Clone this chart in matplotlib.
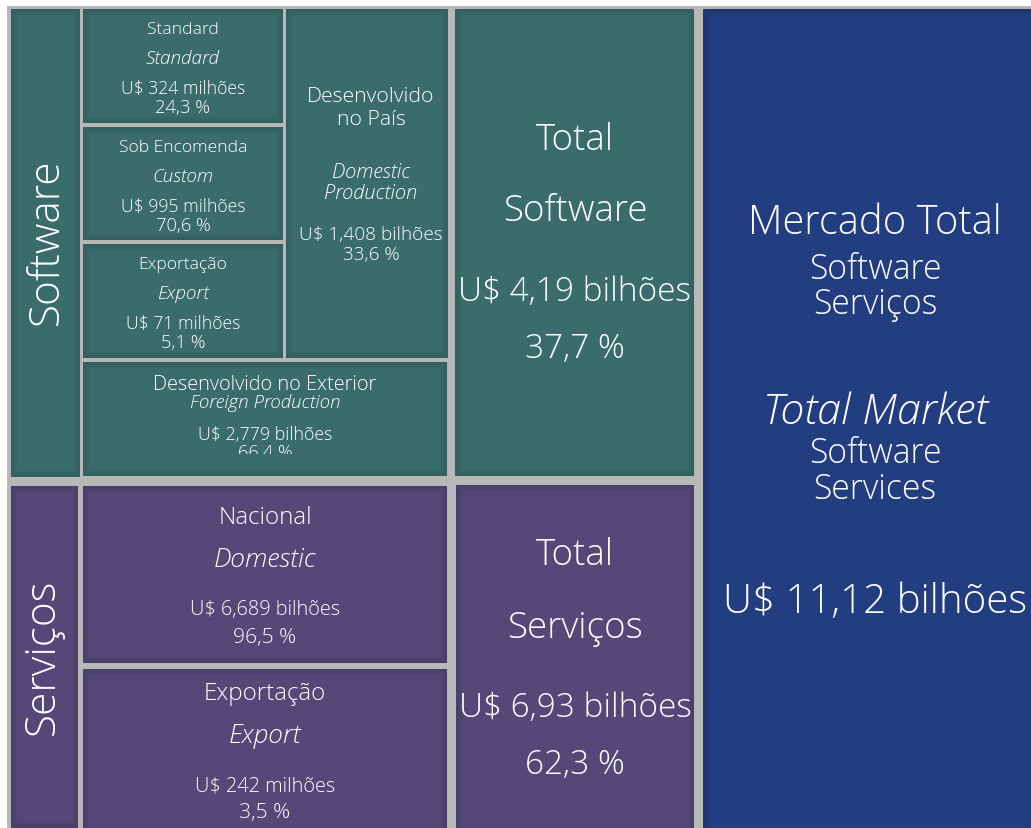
import matplotlib
matplotlib.use("Agg")
import matplotlib.pyplot as plt
from matplotlib.patches import Rectangle

# 1) Data
# ===================================================================
sw_names = ["Standard", "Sob Encomenda", "Exportação"]
sw_names_en = ["Standard", "Custom", "Export"]
sw_values = [324, 995, 71]          # U$ milhões
sw_pcts = [24.3, 70.6, 5.1]

dom_value = 1.408                   # U$ bilhões
dom_pct = 33.6
ext_value = 2.779
ext_pct = 66.4

srv_names = ["Nacional", "Exportação"]
srv_names_en = ["Domestic", "Export"]
srv_values = ["6,689 bilhões", "242 milhões"]
srv_pcts = [96.5, 3.5]

total_sw = 4.19
total_sw_pct = 37.7
total_srv = 6.93
total_srv_pct = 62.3
total_market = 11.12

# 2) Style
# ===================================================================
TEAL = "#396c6b"
PURPLE = "#534878"
BLUE = "#223e80"
GAP = "#b8b8b8"
FONT = "Open Sans"
WEIGHT = 300
DY = 2.5


def pct(v):
    return f"{v:.1f}".replace(".", ",") + " %"


def num(v, d):
    return f"{v:.{d}f}".replace(".", ",")


def box(ax, x0, y0, x1, y1, color):
    ax.add_patch(Rectangle((x0, y0), x1 - x0, y1 - y0, facecolor=color,
                           edgecolor="none"))
    # soft inner shadow
    for k, a in enumerate([0.10, 0.07, 0.04]):
        ax.add_patch(Rectangle((x0 + 1 + k * 2, y0 + 1 + k * 2),
                               x1 - x0 - 2 - k * 4, y1 - y0 - 2 - k * 4,
                               facecolor="none", edgecolor="black",
                               linewidth=1.6, alpha=a))


def lines(ax, xc, rows, clip=None):
    for txt, y, size, style in rows:
        t = ax.text(xc, y + DY, txt, ha="center", va="center", color="white",
                    fontsize=size, style=style, family=FONT, weight=WEIGHT)
        if clip is not None:
            t.set_clip_on(True)
            t.set_clip_path(clip)


# 3) Plot
# ===================================================================
fig = plt.figure(figsize=(10.31, 8.29), dpi=100)
ax = fig.add_axes([0, 0, 1, 1])
ax.set_xlim(0, 1031)
ax.set_ylim(829, 0)
ax.axis("off")

ax.add_patch(Rectangle((7, 7), 1031 - 7, 829 - 7, facecolor=GAP,
                       edgecolor="none"))

# Software side
box(ax, 11, 10, 80, 478, TEAL)
ax.text(46, 242, "Software", rotation=90, ha="center", va="center",
        color="white", fontsize=30.5, family=FONT, weight=WEIGHT)

sw_boxes = [(83, 10, 283, 124), (83, 128, 283, 241), (83, 245, 283, 359)]
for i, (x0, y0, x1, y1) in enumerate(sw_boxes):
    box(ax, x0, y0, x1, y1, TEAL)
    lines(ax, (x0 + x1) / 2, [
        (sw_names[i], y0 + 17, 12.6, "normal"),
        (sw_names_en[i], y0 + 46, 13.6, "italic"),
        (f"U$ {sw_values[i]} milhões", y0 + 76, 12.7, "normal"),
        (pct(sw_pcts[i]), y0 + 95, 13.2, "normal"),
    ])

box(ax, 286, 10, 448, 359, TEAL)
lines(ax, 371, [
    ("Desenvolvido", 94, 15.3, "normal"),
    ("no País", 117, 15.3, "normal"),
    ("Domestic", 170, 14.5, "italic"),
    ("Production", 191, 14.5, "italic"),
    (f"U$ {num(dom_value, 3)} bilhões", 232, 13.7, "normal"),
    (pct(dom_pct), 252, 13.7, "normal"),
])

box(ax, 83, 363, 447, 477, TEAL)
clip = Rectangle((83, 363), 364, 92, transform=ax.transData)
lines(ax, 265, [
    ("Desenvolvido no Exterior", 383, 14.4, "normal"),
    ("Foreign Production", 401, 13.5, "italic"),
    (f"U$ {num(ext_value, 3)} bilhões", 433, 12.8, "normal"),
    (pct(ext_pct), 451, 13.2, "normal"),
], clip=clip)

box(ax, 455, 10, 694, 477, TEAL)
lines(ax, 575, [
    ("Total", 138, 26.5, "normal"),
    ("Software", 209, 26.5, "normal"),
    (f"U$ {num(total_sw, 2)} bilhões", 290, 24, "normal"),
    (pct(total_sw_pct), 347, 24, "normal"),
])

# Services side
box(ax, 11, 487, 78, 829, PURPLE)
ax.text(43, 657, "Serviços", rotation=90, ha="center", va="center",
        color="white", fontsize=30.5, family=FONT, weight=WEIGHT)

srv_boxes = [(83, 487, 447, 664), (83, 670, 447, 835)]
srv_rows_y = [(516, 558, 608, 636), (692, 734, 784, 811)]
for i, (x0, y0, x1, y1) in enumerate(srv_boxes):
    box(ax, x0, y0, x1, y1, PURPLE)
    ya, yb, yc, yd = srv_rows_y[i]
    lines(ax, 265, [
        (srv_names[i], ya, 17.4, "normal"),
        (srv_names_en[i], yb, 19, "italic"),
        (f"U$ {srv_values[i]}", yc, 14.3, "normal"),
        (pct(srv_pcts[i]), yd, 15.2, "normal"),
    ])

box(ax, 456, 486, 694, 835, PURPLE)
lines(ax, 575, [
    ("Total", 553, 26.5, "normal"),
    ("Serviços", 626, 26.5, "normal"),
    (f"U$ {num(total_srv, 2)} bilhões", 706, 24, "normal"),
    (pct(total_srv_pct), 763, 24, "normal"),
])

# Total market
box(ax, 703, 10, 1036, 835, BLUE)
lines(ax, 875, [
    ("Mercado Total", 221, 28.7, "normal"),
    ("Software", 267, 24.2, "normal"),
    ("Serviços", 302, 24.2, "normal"),
    ("Total Market", 410, 31, "italic"),
    ("Software", 451, 24.2, "normal"),
    ("Services", 487, 24.2, "normal"),
    (f"U$ {num(total_market, 2)} bilhões", 600, 29, "normal"),
])

fig.savefig("out.png", dpi=100, facecolor="white")
